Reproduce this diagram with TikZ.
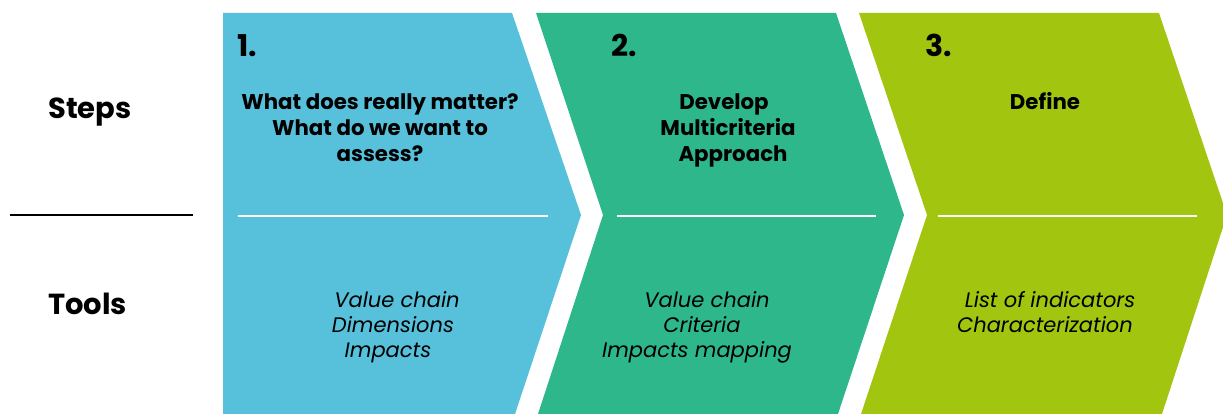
\documentclass[tikz,border=0pt]{standalone}
\usepackage{fontspec}
\setmainfont{Poppins}
\definecolor{cblue}{RGB}{87,192,219}
\definecolor{cgreen}{RGB}{46,183,139}
\definecolor{clime}{RGB}{162,197,16}
\newcommand{\shl}[1]{\hspace*{#1pt}}
\tikzset{
  rowlabel/.style={font=\bfseries\fontsize{29}{32}\selectfont, anchor=base west, inner sep=0pt},
  stepnum/.style={font=\bfseries\fontsize{30}{34}\selectfont, anchor=base west, inner sep=0pt},
  heading/.style={font=\bfseries\fontsize{21.3}{26}\selectfont, align=center, anchor=base, inner sep=0pt},
  toollist/.style={font=\itshape\fontsize{21}{25}\selectfont, align=center, anchor=base, inner sep=0pt},
  divider/.style={white, line width=2.2pt},
}
\begin{document}
\begin{tikzpicture}[x=1pt,y=-1pt]
\useasboundingbox (0,0) rectangle (1223,414);
\clip (0,0) rectangle (1223,414);
% chevrons
\fill[cblue] (223,13) -- (512,13) -- (581,215) -- (515,414) -- (223,414) -- cycle;
\fill[cgreen] (536,13) -- (836,13) -- (904,215) -- (838,414) -- (538,414) -- (603,215) -- cycle;
\fill[clime] (859,13) -- (1159,13) -- (1227,215) -- (1162,414) -- (861,414) -- (927,215) -- cycle;
% dividers
\coordinate (d1a) at (238,216); \coordinate (d1b) at (548,216);
\coordinate (d2a) at (617,216); \coordinate (d2b) at (876,216);
\coordinate (d3a) at (938,216); \coordinate (d3b) at (1197,216);
\draw[divider] (d1a) -- (d1b);
\draw[divider] (d2a) -- (d2b);
\draw[divider] (d3a) -- (d3b);
\coordinate (la) at (10,215); \coordinate (lb) at (193,215);
\draw[black, line width=2.6pt] (la) -- (lb);
% row labels
\node[rowlabel] (steps) at (48,119) {Steps};
\node[rowlabel] (tools) at (48,314) {Tools};
% step numbers
\node[stepnum] (n1) at (237,57) {1.};
\node[stepnum] (n2) at (611,57) {2.};
\node[stepnum] (n3) at (925,57) {3.};
% headings (anchored at the baseline of the last line)
\node[heading] (h1) at (380,162) {What does really matter?\\What do we want to\\assess?};
\node[heading] (h2) at (728,162) {Develop\shl{8}\\Multicriteria\\\shl{10}Approach};
\node[heading] (h3) at (1045,110) {Define};
% tools
\node[toollist] (t1) at (393,357) {\shl{8}Value chain\\Dimensions\\Impacts\shl{10}};
\node[toollist] (t2) at (702,357) {\shl{10}Value chain\\Criteria\\Impacts mapping\shl{10}};
\node[toollist] (t3) at (1047,332) {\shl{6}List of indicators\\Characterization\shl{4}};
\end{tikzpicture}
\end{document}
